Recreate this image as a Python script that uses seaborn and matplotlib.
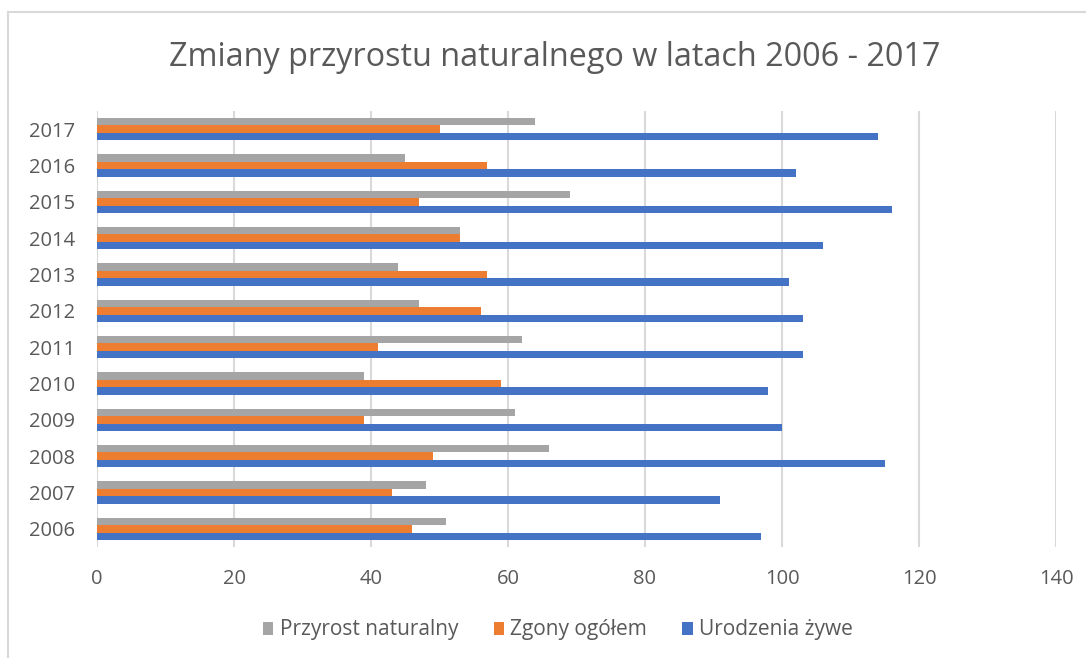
import pandas as pd
import matplotlib.pyplot as plt
import seaborn as sns
from matplotlib.lines import Line2D

# data
years = ['2017', '2016', '2015', '2014', '2013', '2012',
         '2011', '2010', '2009', '2008', '2007', '2006']
przyrost = [64, 45, 69, 53, 44, 47, 62, 39, 61, 66, 48, 51]
zgony = [50, 57, 47, 53, 57, 56, 41, 59, 39, 49, 43, 46]
urodzenia = [114, 102, 116, 106, 101, 103, 103, 98, 100, 115, 91, 97]
series_names = ['Przyrost naturalny', 'Zgony ogółem', 'Urodzenia żywe']
colors = ['#A5A5A5', '#ED7D31', '#4472C4']
x_ticks = [0, 20, 40, 60, 80, 100, 120, 140]

# long format for seaborn
df = pd.DataFrame({
    'year': years * 3,
    'value': przyrost + zgony + urodzenia,
    'series': [series_names[0]] * 12 + [series_names[1]] * 12 + [series_names[2]] * 12,
})

sns.set_style("white")
plt.rcParams['font.family'] = ['Open Sans', 'DejaVu Sans']
text_col = '#595959'

fig = plt.figure(figsize=(10.86, 6.58), dpi=100)
ax = fig.add_axes([97 / 1086, 1 - 547 / 658, (1056 - 97) / 1086, (547 - 111) / 658])

sns.barplot(data=df, x='value', y='year', hue='series', order=years,
            hue_order=series_names, palette=colors, orient='h',
            width=0.62, gap=0, saturation=1, linewidth=0, ax=ax)

ax.set_xlim(0, 140)
ax.set_xticks(x_ticks)
ax.set_ylim(11.5, -0.5)
ax.xaxis.grid(True, color='#D9D9D9', lw=1.5)
ax.set_axisbelow(True)
sns.despine(ax=ax, left=True, bottom=True)
ax.set_xlabel("")
ax.set_ylabel("")
ax.tick_params(axis='x', length=0, pad=16, labelsize=14.5, labelcolor=text_col)
ax.tick_params(axis='y', length=0, pad=16, labelsize=14.5, labelcolor=text_col)

# legend below the axis
handles, labels = ax.get_legend_handles_labels()
ax.get_legend().remove()
fig.legend(handles, labels, loc='center', bbox_to_anchor=(558 / 1086, 1 - 630 / 658),
           ncol=3, frameon=False, fontsize=15, labelcolor=text_col,
           handlelength=0.5, handleheight=0.6, handletextpad=0.3, columnspacing=1.7)

fig.text(555 / 1086, 1 - 57 / 658, "Zmiany przyrostu naturalnego w latach 2006 - 2017",
         ha='center', va='center', fontsize=23.3, color=text_col)

# chart border (only left and top edge visible in the picture)
fig.add_artist(Line2D([8 / 1086, 8 / 1086], [0, 1 - 12 / 658], color='#D9D9D9', lw=1.5,
                      transform=fig.transFigure))
fig.add_artist(Line2D([8 / 1086, 1], [1 - 12 / 658, 1 - 12 / 658], color='#D9D9D9', lw=1.5,
                      transform=fig.transFigure))

plt.savefig("out.png", dpi=100)
